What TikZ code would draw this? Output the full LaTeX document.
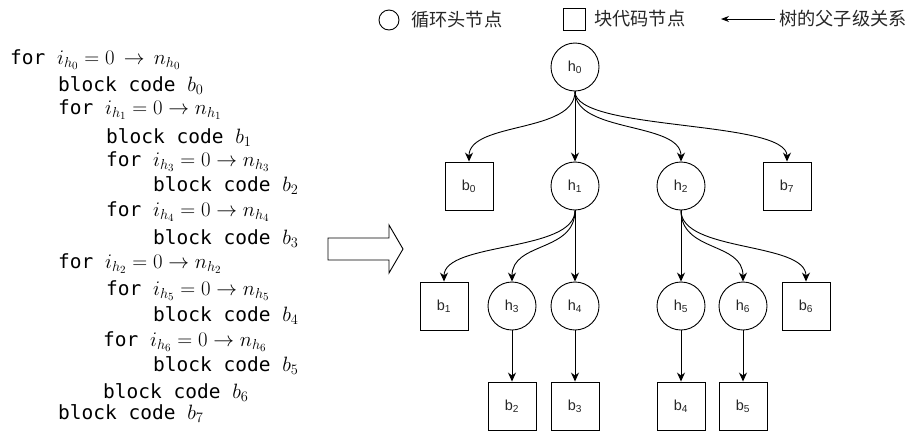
\documentclass[tikz,border=0pt]{standalone}
\usepackage{fontspec}
\setmonofont{DejaVu Sans Mono}
\newfontfamily\labfont{Liberation Sans}
\newfontfamily\cjk{Noto Sans CJK SC}
\usetikzlibrary{arrows.meta}
\newcommand\codemath[1]{{\fontsize{22.3}{24}\selectfont$#1$}}
\begin{document}
\begin{tikzpicture}[x=1pt,y=-1pt,
  loopnode/.style={draw,circle,line width=0.9pt,minimum size=48pt,inner sep=0pt,text=black!85,font=\labfont\fontsize{14.5}{16}\selectfont},
  blocknode/.style={draw,rectangle,line width=0.9pt,minimum size=48pt,inner sep=0pt,text=black!85,font=\labfont\fontsize{14.5}{16}\selectfont},
  edge/.style={line width=0.9pt,-{Stealth[length=9pt,width=8pt]}},
  codeline/.style={anchor=base west,inner sep=0pt,font=\ttfamily\fontsize{19.5}{22}\selectfont},
  legendtext/.style={anchor=west,inner sep=0pt,text=black!85,font=\cjk\fontsize{18.2}{20}\selectfont}]
\useasboundingbox (0,0) rectangle (911,432);
% legend
\node[draw,circle,line width=0.9pt,minimum size=20pt,inner sep=0pt] (lc) at (389,20) {};
\node[legendtext] (lt1) at (411,20) {循环头节点};
\node[draw,rectangle,line width=0.9pt,minimum size=22pt,inner sep=0pt] (ls) at (574,19) {};
\node[legendtext] (lt2) at (594,19) {块代码节点};
\coordinate (la1) at (775,19);
\coordinate (la2) at (721,19);
\draw[line width=0.9pt,-{Stealth[length=8pt,width=6pt]}] (la1) -- (la2);
\node[legendtext] (lt3) at (779,19) {树的父子级关系};
% code
\node[codeline] (c1) at (10,64) {for \codemath{i_{h_0}=0\,\rightarrow\,n_{h_0}}};
\node[codeline] (c2) at (58,91) {block code \codemath{b_0}};
\node[codeline] (c3) at (58,114) {for \codemath{i_{h_1}=0\rightarrow n_{h_1}}};
\node[codeline] (c4) at (106,143) {block code \codemath{b_1}};
\node[codeline] (c5) at (106,166) {for \codemath{i_{h_3}=0\rightarrow n_{h_3}}};
\node[codeline] (c6) at (153,191) {block code \codemath{b_2}};
\node[codeline] (c7) at (106,216) {for \codemath{i_{h_4}=0\rightarrow n_{h_4}}};
\node[codeline] (c8) at (153,244) {block code \codemath{b_3}};
\node[codeline] (c9) at (58,268) {for \codemath{i_{h_2}=0\rightarrow n_{h_2}}};
\node[codeline] (c10) at (106,295) {for \codemath{i_{h_5}=0\rightarrow n_{h_5}}};
\node[codeline] (c11) at (153,321) {block code \codemath{b_4}};
\node[codeline] (c12) at (103,346) {for \codemath{i_{h_6}=0\rightarrow n_{h_6}}};
\node[codeline] (c13) at (153,371) {block code \codemath{b_5}};
\node[codeline] (c14) at (103,398) {block code \codemath{b_6}};
\node[codeline] (c15) at (58,419) {block code \codemath{b_7}};
% hollow arrow
\draw[line width=0.9pt] (328,238) -- (389,238) -- (389,225) -- (403,249) -- (389,273) -- (389,260) -- (328,260) -- cycle;
% tree nodes
\node[loopnode] (h0) at (575,67) {h\textsubscript{0}};
\node[blocknode] (b0) at (469,186) {b\textsubscript{0}};
\node[loopnode] (h1) at (575,186) {h\textsubscript{1}};
\node[loopnode] (h2) at (681,186) {h\textsubscript{2}};
\node[blocknode] (b7) at (787,186) {b\textsubscript{7}};
\node[blocknode] (b1) at (444,306) {b\textsubscript{1}};
\node[loopnode] (h3) at (512,306) {h\textsubscript{3}};
\node[loopnode] (h4) at (575,306) {h\textsubscript{4}};
\node[loopnode] (h5) at (681,306) {h\textsubscript{5}};
\node[loopnode] (h6) at (743,306) {h\textsubscript{6}};
\node[blocknode] (b6) at (806,306) {b\textsubscript{6}};
\node[blocknode] (b2) at (512,406) {b\textsubscript{2}};
\node[blocknode] (b3) at (575,406) {b\textsubscript{3}};
\node[blocknode] (b4) at (681,406) {b\textsubscript{4}};
\node[blocknode] (b5) at (743,406) {b\textsubscript{5}};
% edges
\draw[edge] (h0.south) .. controls +(0,42) and +(0,-40) .. (b0.north);
\draw[edge] (h0.south) -- (h1.north);
\draw[edge] (h0.south) .. controls +(0,42) and +(0,-40) .. (h2.north);
\draw[edge] (h0.south) .. controls +(0,40) and +(0,-42) .. (b7.north);
\draw[edge] (h1.south) .. controls +(0,42) and +(0,-40) .. (b1.north);
\draw[edge] (h1.south) .. controls +(0,42) and +(0,-40) .. (h3.north);
\draw[edge] (h1.south) -- (h4.north);
\draw[edge] (h2.south) -- (h5.north);
\draw[edge] (h2.south) .. controls +(0,42) and +(0,-40) .. (h6.north);
\draw[edge] (h2.south) .. controls +(0,42) and +(0,-40) .. (b6.north);
\draw[edge] (h3.south) -- (b2.north);
\draw[edge] (h4.south) -- (b3.north);
\draw[edge] (h5.south) -- (b4.north);
\draw[edge] (h6.south) -- (b5.north);
\end{tikzpicture}
\end{document}
